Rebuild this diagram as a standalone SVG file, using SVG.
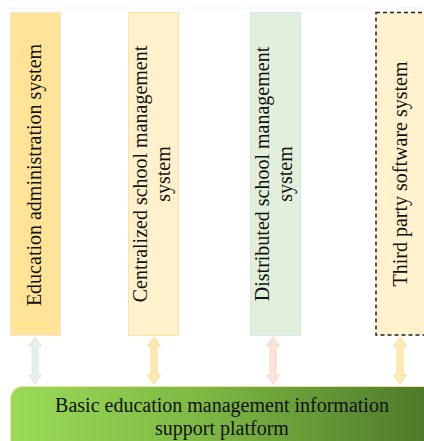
<svg xmlns="http://www.w3.org/2000/svg" width="424" height="441" viewBox="0 0 424 441">
<defs>
<linearGradient id="g" x1="0" y1="0" x2="1" y2="0">
<stop offset="0" stop-color="#9ADB58"/>
<stop offset="0.45" stop-color="#7DB843"/>
<stop offset="1" stop-color="#4C7629"/>
</linearGradient>
<style>
.t{font-family:"Liberation Serif","Times New Roman",serif;font-size:20px;fill:#111;text-anchor:middle}
</style>
</defs>
<rect width="424" height="441" fill="#fff"/>
<line x1="0" y1="8" x2="424" y2="8" stroke="#F2F2F2" stroke-width="1"/>
<g id="edu">
<rect x="10.5" y="12.5" width="50" height="323" fill="#FFE497" stroke="#FBE3D6" stroke-width="1"/>
<g transform="translate(41,175) rotate(-90)"><text class="t" x="0" y="0">Education administration system</text></g>
</g>
<g id="central">
<rect x="128.5" y="12.5" width="50" height="323" fill="#FFF1CC" stroke="#FFE39C" stroke-width="1"/>
<g transform="translate(147,174) rotate(-90)"><text class="t" x="0" y="0">Centralized school management</text><text class="t" x="0" y="23">system</text></g>
</g>
<g id="distributed">
<rect x="250.5" y="12.5" width="50" height="323" fill="#E2EFDA" stroke="#DAE3F3" stroke-width="1"/>
<g transform="translate(269,174) rotate(-90)"><text class="t" x="0" y="0">Distributed school management</text><text class="t" x="0" y="23">system</text></g>
</g>
<g id="third">
<rect x="376" y="12.5" width="60" height="322.5" fill="#FFF2CC" stroke="#222" stroke-width="1.5" stroke-dasharray="4,3"/>
<g transform="translate(407,174) rotate(-90)"><text class="t" x="0" y="0">Third party software system</text></g>
</g>
<g id="connectors">
<path d="M35,337 L41.5,346 L38,346 L38,375 L41.5,375 L35,384 L28.5,375 L32,375 L32,346 L28.5,346 Z" fill="#E6F0E4" stroke="#DCE9F2" stroke-width="1"/>
<path d="M154,337 L160.5,346 L157,346 L157,375 L160.5,375 L154,384 L147.5,375 L151,375 L151,346 L147.5,346 Z" fill="#FFE8B0" stroke="#FFDC8C" stroke-width="1"/>
<path d="M273,337 L279.5,346 L276,346 L276,375 L279.5,375 L273,384 L266.5,375 L270,375 L270,346 L266.5,346 Z" fill="#FBE3D6" stroke="#F8D8C4" stroke-width="1"/>
<path d="M400,337 L406.5,346 L403,346 L403,375 L406.5,375 L400,384 L393.5,375 L397,375 L397,346 L393.5,346 Z" fill="#FFEBB5" stroke="#FFDE8E" stroke-width="1"/>
</g>
<g id="platform">
<rect x="10.5" y="386.5" width="430" height="70" rx="12" fill="url(#g)" stroke="#E9E6A0" stroke-width="1"/>
<text class="t" x="222" y="412">Basic education management information</text>
<text class="t" x="222" y="435">support platform</text>
</g>
</svg>
